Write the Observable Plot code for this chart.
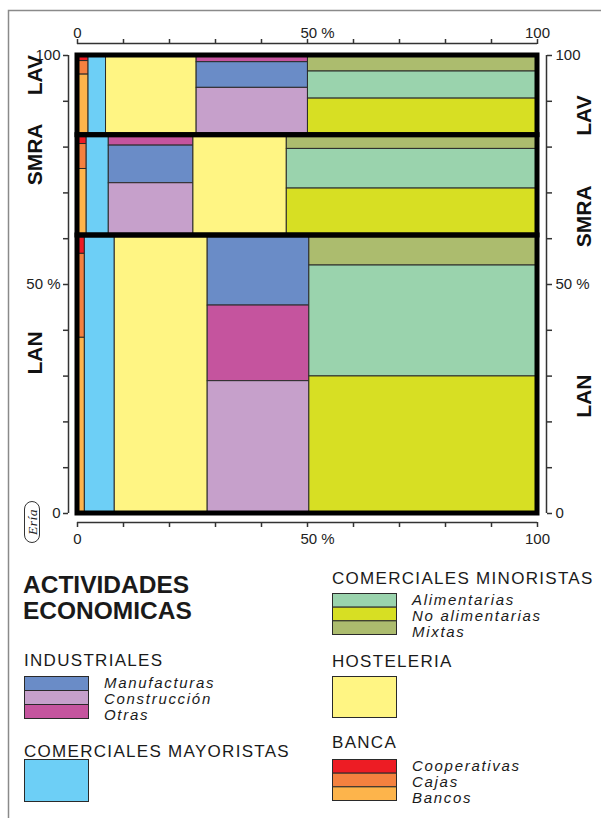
<!DOCTYPE html>
<html><head><meta charset="utf-8">
<script src="https://cdn.jsdelivr.net/npm/d3@7"></script>
<script src="https://cdn.jsdelivr.net/npm/@observablehq/plot@0.6"></script>
<style>
body{margin:0;background:#fff;}
#wrap{position:relative;width:601px;height:818px;overflow:hidden;background:#fff;font-family:"Liberation Sans",Arial,sans-serif;}
#chart{position:absolute;left:0;top:0;}
#over{position:absolute;left:0;top:0;}
</style></head><body>
<div id="wrap"><div id="chart"></div><svg id="over" width="601" height="818"></svg></div>
<script>
// ---- data ----
const strips = ["LAV", "SMRA", "LAN"];
const stripShare = [17.4, 21.9, 60.7];

const sectors = ["Banca", "Mayoristas", "Hosteleria", "Industriales", "Minoristas"];
const widthLAV  = [2.4, 3.8, 19.7, 24.2, 49.9];
const widthSMRA = [2.0, 4.8, 20.3, 18.4, 54.5];
const widthLAN  = [1.6, 6.5, 20.2, 22.1, 49.6];

const bancaItems = ["Cooperativas", "Cajas", "Bancos"];
const bancaLAV  = [7.0, 17.0, 76.0];
const bancaSMRA = [8.8, 24.9, 66.3];
const bancaLAN  = [6.6, 30.2, 63.2];

const industItems = ["Manufacturas", "Construcción", "Otras"];
const industLAV  = [32.2, 59.4, 8.4];
const industSMRA = [37.5, 52.1, 10.4];
const industLAN  = [25.2, 47.6, 27.2];

const minorItems = ["Alimentarias", "No alimentarias", "Mixtas"];
const minorLAV  = [34.0, 45.9, 20.1];
const minorSMRA = [39.5, 46.8, 13.7];
const minorLAN  = [39.9, 49.3, 10.8];

const mayorItems = ["Comerciales mayoristas"];
const hostItems = ["Hostelería"];
const wholeShare = [100];

const colorNames  = ["Cooperativas", "Cajas", "Bancos", "Comerciales mayoristas", "Hostelería",
                     "Manufacturas", "Construcción", "Otras", "Alimentarias", "No alimentarias", "Mixtas"];
const colorValues = ["#ed1c24", "#f4813f", "#fdb44b", "#6dcff6", "#fff583",
                     "#6a8cc7", "#c6a0cb", "#c5549e", "#9ad3ad", "#d7df23", "#acbc6e"];

const xTicks = [0, 10, 20, 30, 40, 50, 60, 70, 80, 90, 100];

// ---- build layout from data ----
const widths = {LAV: widthLAV, SMRA: widthSMRA, LAN: widthLAN};
const subs = {
  Banca: {items: bancaItems, LAV: bancaLAV, SMRA: bancaSMRA, LAN: bancaLAN},
  Mayoristas: {items: mayorItems, LAV: wholeShare, SMRA: wholeShare, LAN: wholeShare},
  Hosteleria: {items: hostItems, LAV: wholeShare, SMRA: wholeShare, LAN: wholeShare},
  Industriales: {items: industItems, LAV: industLAV, SMRA: industSMRA, LAN: industLAN},
  Minoristas: {items: minorItems, LAV: minorLAV, SMRA: minorSMRA, LAN: minorLAN}
};
const cells = [];
const stripRows = [];
let yTop = 100;
const shareTotal = d3.sum(stripShare);
strips.forEach((s, i) => {
  const y2s = yTop, y1s = yTop - stripShare[i] / shareTotal * 100;
  stripRows.push({name: s, y1: y1s, y2: y2s, x1: 0, x2: 100, mid: (y1s + y2s) / 2});
  const order = sectors.map((sec, j) => ({sec, w: widths[s][j]})).sort((a, b) => a.w - b.w);
  const total = d3.sum(order, d => d.w);
  let x = 0;
  for (const {sec, w} of order) {
    const ww = w / total * 100;
    const sub = subs[sec];
    const parts = sub.items.map((name, k) => ({name, v: sub[s][k]})).sort((a, b) => a.v - b.v);
    const vt = d3.sum(parts, d => d.v);
    let yy = y2s;
    for (const p of parts) {
      const h = p.v / vt * (y2s - y1s);
      cells.push({strip: s, sector: sec, name: p.name, x1: x, x2: x + ww, y1: yy - h, y2: yy});
      yy -= h;
    }
    x += ww;
  }
  yTop = y1s;
});

const fmtEnds = d => (d === 0 || d === 100) ? String(d) : "";
const fmtAll = d => (d === 0 || d === 100) ? String(d) : d === 50 ? "50 %" : "";
const axisColor = "#333";

const chart = Plot.plot({
  width: 601, height: 560,
  marginLeft: 77, marginRight: 64, marginTop: 55, marginBottom: 47,
  x: {domain: [0, 100], axis: null},
  y: {domain: [0, 100], axis: null},
  color: {domain: colorNames, range: colorValues},
  style: {fontFamily: "'Liberation Sans', Arial, sans-serif", fontSize: "15px", color: "#222", background: "transparent"},
  marks: [
    Plot.rect(cells, {x1: "x1", x2: "x2", y1: "y1", y2: "y2", fill: "name", stroke: "#2a2a2a", strokeWidth: 1}),
    Plot.rect(stripRows, {x1: "x1", x2: "x2", y1: "y1", y2: "y2", fill: "none", stroke: "#000", strokeWidth: 5}),
    // axis baselines
    Plot.ruleY([100], {dy: -12, stroke: axisColor, strokeWidth: 1.5}),
    Plot.ruleY([0], {dy: 9, stroke: axisColor, strokeWidth: 1.5}),
    Plot.ruleX([0], {dx: -9, stroke: axisColor, strokeWidth: 1.5}),
    Plot.ruleX([100], {dx: 9, stroke: axisColor, strokeWidth: 1.5}),
    // top axis
    Plot.axisX({anchor: "top", ticks: xTicks, tickFormat: fmtEnds, tickSize: 5, tickPadding: 1, dy: -12, stroke: axisColor, strokeWidth: 1.5, label: null}),
    Plot.axisX({anchor: "top", ticks: [50], tickFormat: () => "50 %", tickSize: 0, tickPadding: 6, dy: -12, dx: -7, textAnchor: "start", label: null}),
    // bottom axis
    Plot.axisX({anchor: "bottom", ticks: xTicks, tickFormat: fmtEnds, tickSize: 5, tickPadding: 6, dy: 9, stroke: axisColor, strokeWidth: 1.5, label: null}),
    Plot.axisX({anchor: "bottom", ticks: [50], tickFormat: () => "50 %", tickSize: 0, tickPadding: 11, dy: 9, dx: -7, textAnchor: "start", label: null}),
    // left / right axes
    Plot.axisY({anchor: "left", ticks: xTicks, tickFormat: fmtAll, tickSize: 5, tickPadding: 3, dx: -9, stroke: axisColor, strokeWidth: 1.5, label: null}),
    Plot.axisY({anchor: "right", ticks: xTicks, tickFormat: fmtAll, tickSize: 5, tickPadding: 4, dx: 9, stroke: axisColor, strokeWidth: 1.5, label: null}),
    // strip labels
    Plot.text(stripRows, {y: "mid", text: "name", frameAnchor: "left", dx: -42, rotate: -90, fontSize: 21, fontWeight: "bold", fill: "#111"}),
    Plot.text(stripRows, {y: "mid", text: "name", frameAnchor: "right", dx: 47, rotate: -90, fontSize: 21, fontWeight: "bold", fill: "#111"})
  ]
});
document.getElementById("chart").appendChild(chart);

// ---- overlay: frame, logo, legend ----
const over = d3.select("#over");
over.append("path").attr("d", "M8.5,818 V10.5 H601").attr("fill", "none").attr("stroke", "#8a8a8a").attr("stroke-width", 1.5);

const logo = over.append("g").attr("transform", "translate(32,522)");
logo.append("rect").attr("x", -7.5).attr("y", -20.5).attr("width", 15).attr("height", 41).attr("rx", 7.5)
  .attr("fill", "#fff").attr("stroke", "#333").attr("stroke-width", 1);
logo.append("text").attr("transform", "rotate(-90)").attr("text-anchor", "middle").attr("dy", "0.35em")
  .attr("font-family", "'Liberation Serif','DejaVu Serif',serif").attr("font-style", "italic")
  .attr("font-size", 13.5).attr("letter-spacing", 0.5).attr("fill", "#222").text("Ería");

const titleLines = ["ACTIVIDADES", "ECONOMICAS"];
titleLines.forEach((t, i) => over.append("text").attr("x", 23).attr("y", 593 + i * 25.5)
  .attr("font-family", "'Liberation Sans',Arial,sans-serif").attr("font-weight", "bold")
  .attr("font-size", 24.5).attr("fill", "#1a1a1a").text(t));

const legendGroups = [
  {title: "INDUSTRIALES", items: industItems, x: 24, ty: 666, sy: 676, sh: 42},
  {title: "COMERCIALES MAYORISTAS", items: mayorItems, x: 24, ty: 757, sy: 759, sh: 42, noLabels: true},
  {title: "COMERCIALES MINORISTAS", items: minorItems, x: 332, ty: 584, sy: 593, sh: 41},
  {title: "HOSTELERIA", items: hostItems, x: 332, ty: 667, sy: 676, sh: 41, noLabels: true},
  {title: "BANCA", items: bancaItems, x: 332, ty: 748, sy: 759, sh: 41}
];
const colorOf = name => colorValues[colorNames.indexOf(name)];
for (const g of legendGroups) {
  over.append("text").attr("x", g.x).attr("y", g.ty)
    .attr("font-family", "'Liberation Sans',Arial,sans-serif").attr("font-size", 17)
    .attr("letter-spacing", 1.3).attr("fill", "#1a1a1a").text(g.title);
  const n = g.items.length, h = g.sh / n;
  g.items.forEach((name, k) => {
    over.append("rect").attr("x", g.x + 0.5).attr("y", g.sy + k * h + 0.5).attr("width", 64).attr("height", h)
      .attr("fill", colorOf(name)).attr("stroke", "#2a2a2a").attr("stroke-width", 1);
  });
  if (!g.noLabels) {
    g.items.forEach((name, k) => {
      over.append("text").attr("x", g.x + 80).attr("y", g.sy + 11.5 + k * 16)
        .attr("font-family", "'Liberation Sans',Arial,sans-serif").attr("font-style", "italic")
        .attr("font-size", 15).attr("letter-spacing", 1.7).attr("fill", "#1a1a1a").text(name);
    });
  }
}
</script></body></html>
